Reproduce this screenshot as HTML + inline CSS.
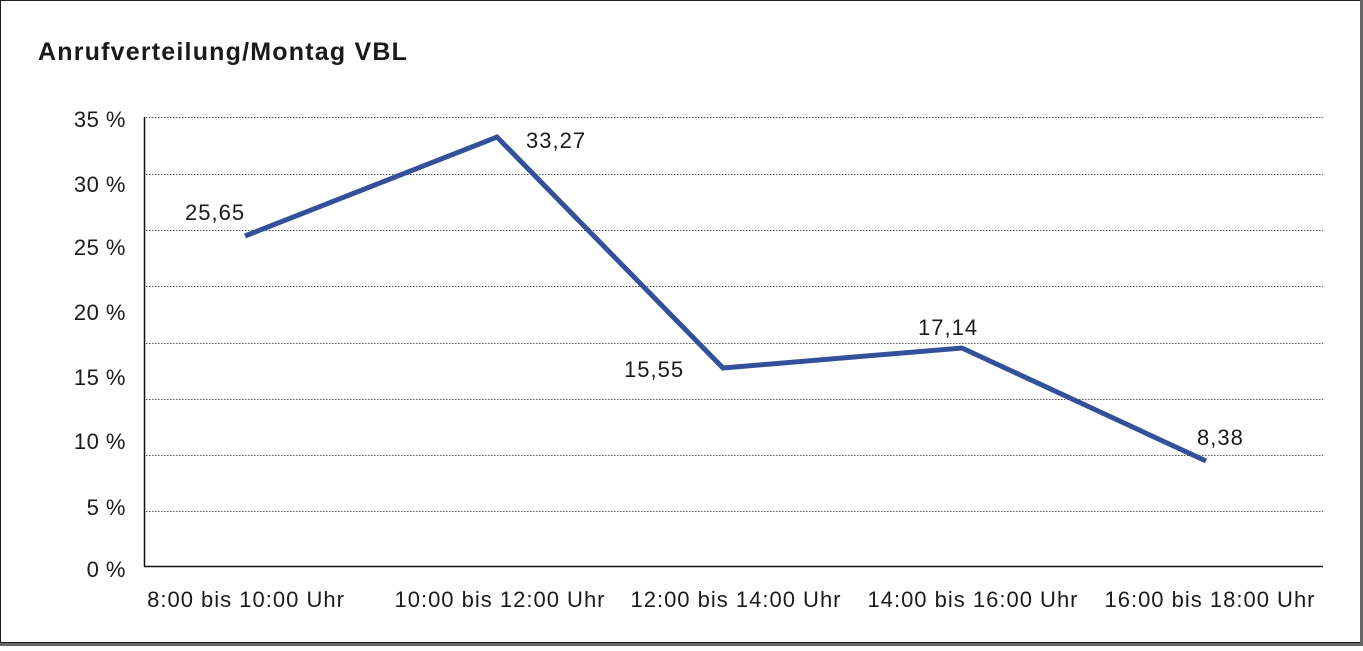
<!DOCTYPE html>
<html><head><meta charset="utf-8"><style>
html,body{margin:0;padding:0;background:#fff;}
body{width:1363px;height:646px;overflow:hidden;}
svg text{font-family:"Liberation Sans",Arial,sans-serif;fill:#1a1a1a;}
</style></head><body>
<svg width="1363" height="646" viewBox="0 0 1363 646" xmlns="http://www.w3.org/2000/svg">
<rect x="0.5" y="0.5" width="1360" height="642" fill="#fff" stroke="#222" stroke-width="1"/>
<rect x="0" y="643" width="1363" height="3" fill="#666"/>
<rect x="1360" y="0" width="3" height="646" fill="#666"/>
<text x="38" y="60" font-size="25" font-weight="bold" fill="#000" letter-spacing="1.2">Anrufverteilung/Montag VBL</text>
<g stroke="#555" stroke-width="1" stroke-dasharray="1.5,1.5">
<line x1="146" y1="117.5" x2="1323" y2="117.5"/>
<line x1="146" y1="174.5" x2="1323" y2="174.5"/>
<line x1="146" y1="230.5" x2="1323" y2="230.5"/>
<line x1="146" y1="286.5" x2="1323" y2="286.5"/>
<line x1="146" y1="343.5" x2="1323" y2="343.5"/>
<line x1="146" y1="399.5" x2="1323" y2="399.5"/>
<line x1="146" y1="455.5" x2="1323" y2="455.5"/>
<line x1="146" y1="511.5" x2="1323" y2="511.5"/>
</g>
<line x1="144.5" y1="117" x2="144.5" y2="567" stroke="#111" stroke-width="1.5"/>
<line x1="144" y1="566.5" x2="1323" y2="566.5" stroke="#111" stroke-width="1.5"/>
<g font-size="22" text-anchor="end" letter-spacing="0.5">
<text x="126" y="127">35 %</text>
<text x="126" y="192">30 %</text>
<text x="126" y="255">25 %</text>
<text x="126" y="320">20 %</text>
<text x="126" y="385">15 %</text>
<text x="126" y="449">10 %</text>
<text x="126" y="515">5 %</text>
<text x="126" y="577">0 %</text>
</g>
<g font-size="22" text-anchor="middle" letter-spacing="1">
<text x="246" y="607">8:00 bis 10:00 Uhr</text>
<text x="500" y="607">10:00 bis 12:00 Uhr</text>
<text x="736" y="607">12:00 bis 14:00 Uhr</text>
<text x="973" y="607">14:00 bis 16:00 Uhr</text>
<text x="1210" y="607">16:00 bis 18:00 Uhr</text>
</g>
<polyline points="245,236 497,137 723,368 962,348 1206,461" fill="none" stroke="#33519b" stroke-width="5" stroke-linejoin="miter"/>
<g font-size="22" letter-spacing="1">
<text x="185" y="220">25,65</text>
<text x="526" y="148">33,27</text>
<text x="624" y="377">15,55</text>
<text x="918" y="335">17,14</text>
<text x="1197" y="445">8,38</text>
</g>
</svg>
</body></html>
